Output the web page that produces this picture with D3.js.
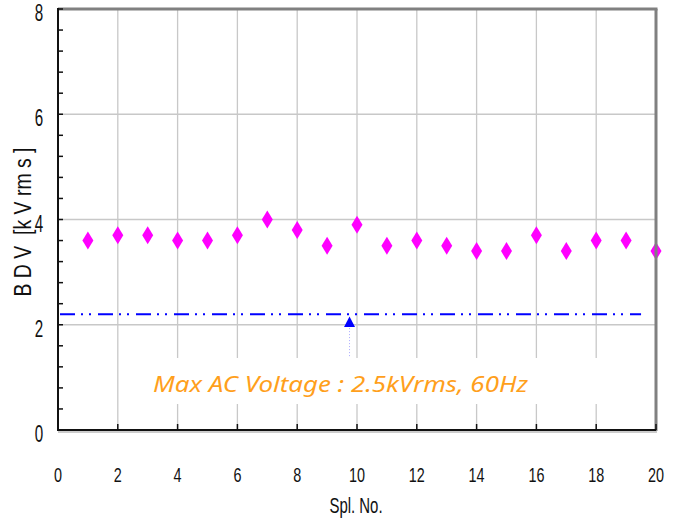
<!DOCTYPE html>
<html><head><meta charset="utf-8">
<script src="https://cdn.jsdelivr.net/npm/d3@7"></script>
<style>
html,body{margin:0;padding:0;background:#fff;}
svg{display:block;}
.nar{font-family:"Liberation Sans",Arial,sans-serif;}
</style></head>
<body><svg id="c" width="679" height="523"></svg>
<script>
const sampleNo = [1,2,3,4,5,6,7,8,9,10,11,12,13,14,15,16,17,18,19,20];
const bdv = [3.6,3.7,3.7,3.6,3.6,3.7,4.0,3.8,3.5,3.9,3.5,3.6,3.5,3.4,3.4,3.7,3.4,3.6,3.6,3.4];
const refLineX = [0, 19.5];
const refLineY = 2.2;
const markerX = 9.75, markerY = 2.05, markerLineEnd = 1.37;
const xTicks = [0,2,4,6,8,10,12,14,16,18,20];
const yTicks = [0,2,4,6,8];
const yMinor = d3.range(0, 8.001, 0.4);
const note = "Max AC Voltage : 2.5kVrms, 60Hz";
const xTitle = "Spl. No.";
const yTitle = "B D V  [k V rm s ]";

const svg = d3.select("#c");
const L = 58, R = 656, T = 9, B = 430;
const x = d3.scaleLinear().domain([0,20]).range([L,R]);
const y = d3.scaleLinear().domain([0,8]).range([B,T]);

// grid
svg.append("g").selectAll("line").data(xTicks.filter(d=>d>0&&d<20)).join("line")
  .attr("x1",d=>x(d)).attr("x2",d=>x(d)).attr("y1",T).attr("y2",B)
  .attr("stroke","#c8c8c8").attr("stroke-width",1.3);
svg.append("g").selectAll("line").data(yTicks.filter(d=>d>0&&d<8)).join("line")
  .attr("x1",L).attr("x2",R).attr("y1",d=>y(d)).attr("y2",d=>y(d))
  .attr("stroke","#c8c8c8").attr("stroke-width",1.3);

// reference dash-dot-dot line
svg.append("line")
  .attr("x1",x(refLineX[0])+2).attr("x2",x(refLineX[1]))
  .attr("y1",y(refLineY)).attr("y2",y(refLineY))
  .attr("stroke","#0000ff").attr("stroke-width",2)
  .attr("stroke-dasharray","15,6,2,6,2,7");

// marker vertical dotted line
svg.append("line")
  .attr("x1",x(markerX)).attr("x2",x(markerX))
  .attr("y1",y(markerY)).attr("y2",y(markerLineEnd))
  .attr("stroke","#aaaaff").attr("stroke-width",1).attr("stroke-dasharray","1,2");

// triangle marker
svg.append("path")
  .attr("d", d3.line()([[x(markerX),y(markerY)-5.5],[x(markerX)+5.5,y(markerY)+5],[x(markerX)-5.5,y(markerY)+5]])+"Z")
  .attr("fill","#0000ff");

// note box
svg.append("rect").attr("x",140).attr("y",358).attr("width",480).attr("height",46).attr("fill","#fff");
svg.append("text").attr("x",153).attr("y",392)
  .attr("font-family","'Noto Sans','DejaVu Sans',sans-serif").attr("font-style","italic")
  .attr("font-size",21).attr("fill","#FF9F1C")
  .attr("textLength",375).attr("lengthAdjust","spacingAndGlyphs")
  .text(note);

// diamonds
svg.append("g").selectAll("path").data(sampleNo).join("path")
  .attr("d",(d,i)=>{const cx=x(d), cy=y(bdv[i]); return `M${cx},${cy-9}L${cx+5.5},${cy}L${cx},${cy+9}L${cx-5.5},${cy}Z`;})
  .attr("fill","#ff00ff");

// frame: top and right gray
svg.append("line").attr("x1",L).attr("x2",R+1.5).attr("y1",T).attr("y2",T).attr("stroke","#808080").attr("stroke-width",3);
svg.append("line").attr("x1",R).attr("x2",R).attr("y1",T).attr("y2",B+1).attr("stroke","#808080").attr("stroke-width",3);
// bottom axis shadow + line
svg.append("line").attr("x1",L).attr("x2",R+1).attr("y1",B+2).attr("y2",B+2).attr("stroke","#bbbbbb").attr("stroke-width",1.5);
svg.append("line").attr("x1",L-1).attr("x2",R).attr("y1",B).attr("y2",B).attr("stroke","#111").attr("stroke-width",2);
svg.append("line").attr("x1",L).attr("x2",L).attr("y1",T-1).attr("y2",B+1).attr("stroke","#111").attr("stroke-width",2);

// x ticks (inward)
svg.append("g").selectAll("line").data(xTicks.filter(d=>d>0)).join("line")
  .attr("x1",d=>x(d)).attr("x2",d=>x(d)).attr("y1",B).attr("y2",B-6)
  .attr("stroke","#111").attr("stroke-width",1.5);
// y minor ticks (inward)
svg.append("g").selectAll("line").data(yMinor).join("line")
  .attr("x1",L).attr("x2",L+5).attr("y1",d=>y(d)).attr("y2",d=>y(d))
  .attr("stroke","#111").attr("stroke-width",1.5);

// labels (condensed via horizontal scale)
svg.append("g").selectAll("text").data(yTicks).join("text").attr("class","nar")
  .attr("transform",d=>`translate(39,${y(d)+12}) scale(0.66,1)`).attr("text-anchor","middle")
  .attr("font-size",23).attr("fill","#111").text(d=>d);
svg.append("g").selectAll("text").data(xTicks).join("text").attr("class","nar")
  .attr("transform",d=>`translate(${x(d)},482) scale(0.72,1)`).attr("text-anchor","middle")
  .attr("font-size",20).attr("fill","#111").text(d=>d);
svg.append("text").attr("class","nar").attr("transform","translate(356,513) scale(0.68,1)").attr("text-anchor","middle")
  .attr("font-size",22).attr("fill","#111").text(xTitle);
svg.append("text").attr("class","nar")
  .attr("transform","translate(31,222) rotate(-90)").attr("text-anchor","middle")
  .attr("font-size",23).attr("fill","#111").attr("textLength",149).attr("lengthAdjust","spacingAndGlyphs")
  .style("white-space","pre").text(yTitle);
</script></body></html>
